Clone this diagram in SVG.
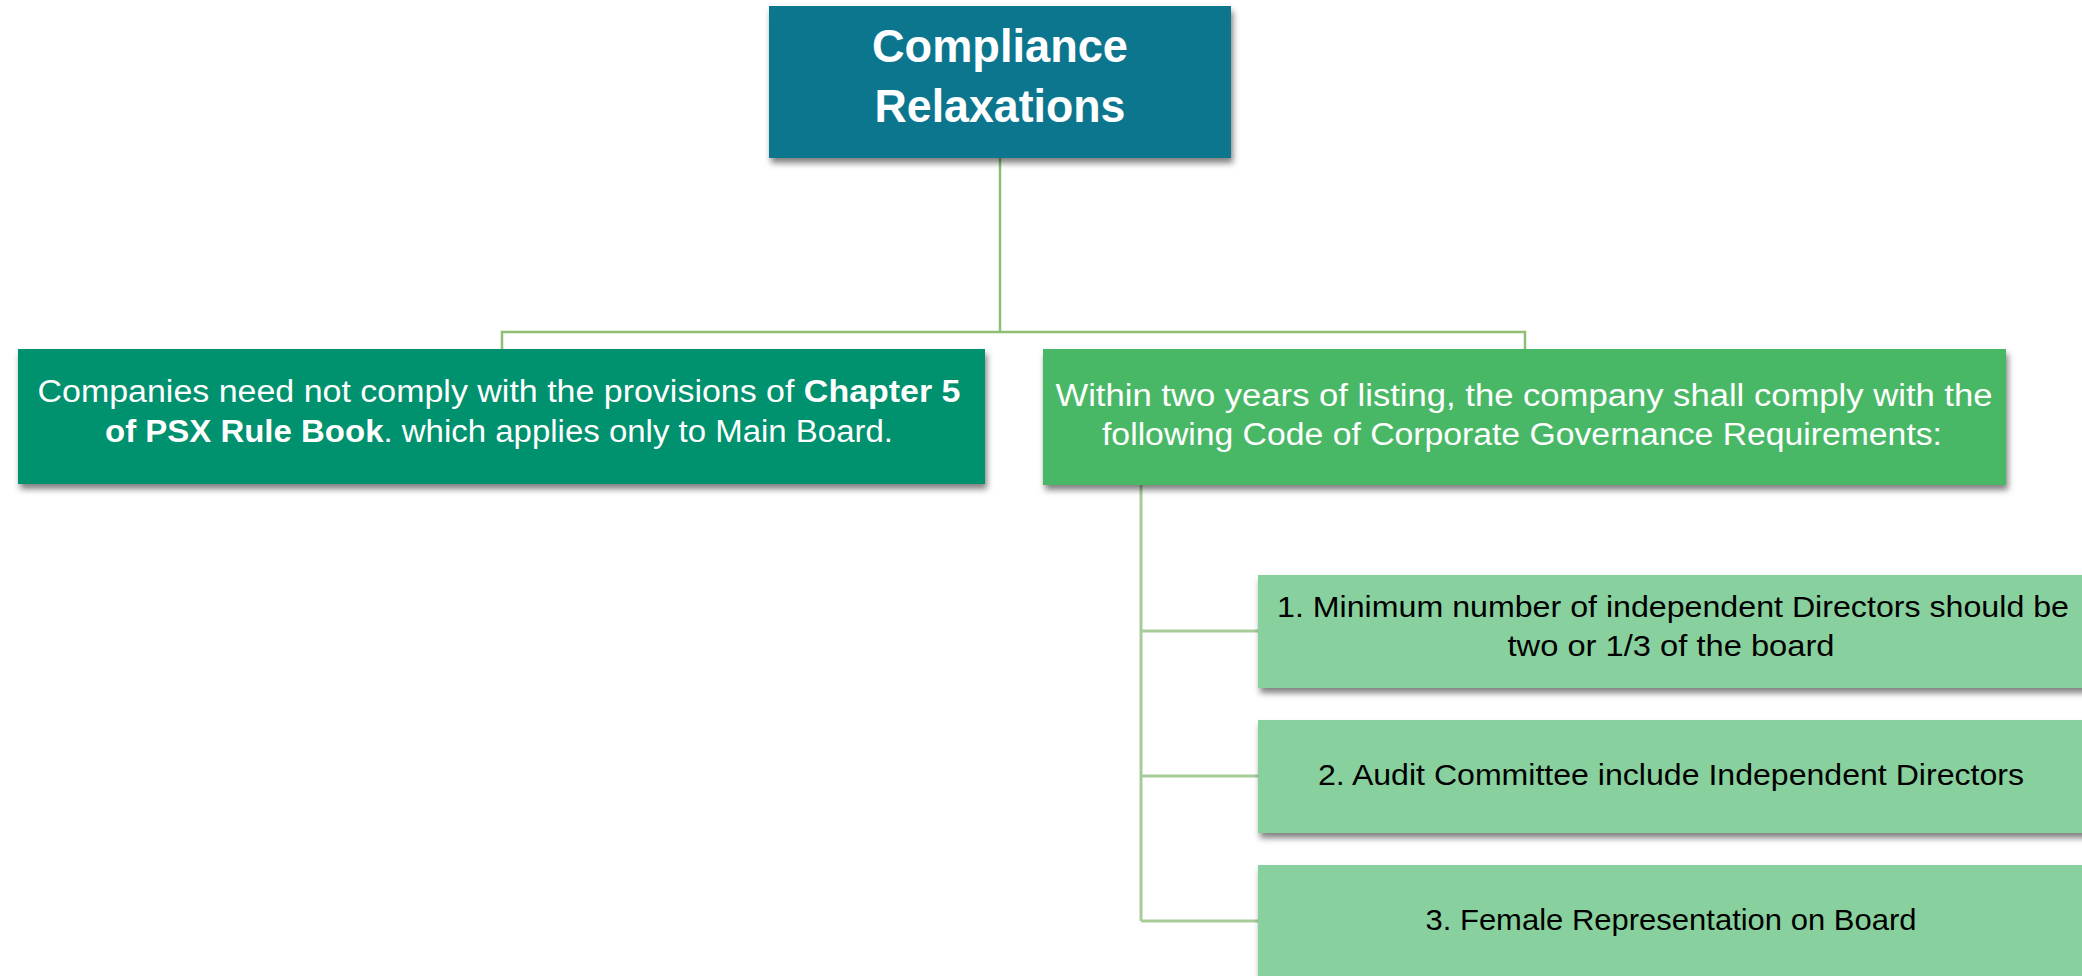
<svg xmlns="http://www.w3.org/2000/svg" width="2082" height="976" viewBox="0 0 2082 976">
<style>
  .lbl { font-family: "Liberation Sans", Arial, sans-serif; text-anchor: middle; }
  .w { fill: #ffffff; }
  .k { fill: #000000; }
  .conn { fill: none; stroke: #8FBE75; stroke-width: 2.5; }
  .conn2 { fill: none; stroke: #A8CC98; stroke-width: 3; }
</style>
<defs>
  <filter id="sh" x="-5%" y="-10%" width="110%" height="130%">
    <feDropShadow dx="2" dy="5" stdDeviation="3" flood-color="#000" flood-opacity="0.5"/>
  </filter>
</defs>
<rect width="2082" height="976" fill="#ffffff"/>
<g id="connectors">
  <path class="conn" d="M1000,158 V332 M502,349 V332 H1525 V349"/>
  <path class="conn2" d="M1141,485 V921 M1141,631 H1258 M1141,776 H1258 M1141,921 H1258"/>
</g>
<g id="root">
  <rect x="769" y="6" width="462" height="152" fill="#10768F" filter="url(#sh)"/>
  <text class="lbl w" x="1000" y="62" font-size="46" font-weight="bold" textLength="256" lengthAdjust="spacingAndGlyphs">Compliance</text>
  <text class="lbl w" x="1000" y="122" font-size="46" font-weight="bold" textLength="251" lengthAdjust="spacingAndGlyphs">Relaxations</text>
</g>
<g id="left">
  <rect x="18" y="349" width="967" height="135" fill="#00916E" filter="url(#sh)"/>
  <text class="lbl w" x="499" y="402" font-size="31" textLength="923" lengthAdjust="spacingAndGlyphs">Companies need not comply with the provisions of <tspan font-weight="bold">Chapter 5</tspan></text>
  <text class="lbl w" x="499" y="442" font-size="31" textLength="788" lengthAdjust="spacingAndGlyphs"><tspan font-weight="bold">of PSX Rule Book</tspan>. which applies only to Main Board.</text>
</g>
<g id="right">
  <rect x="1043" y="349" width="963" height="136" fill="#48B866" filter="url(#sh)"/>
  <text class="lbl w" x="1524" y="406" font-size="31" textLength="937" lengthAdjust="spacingAndGlyphs">Within two years of listing, the company shall comply with the</text>
  <text class="lbl w" x="1522" y="445" font-size="31" textLength="840" lengthAdjust="spacingAndGlyphs">following Code of Corporate Governance Requirements:</text>
</g>
<g id="item1">
  <rect x="1258" y="575" width="830" height="113" fill="#88D19E" filter="url(#sh)"/>
  <text class="lbl k" x="1673" y="617" font-size="30" textLength="792" lengthAdjust="spacingAndGlyphs">1. Minimum number of independent Directors should be</text>
  <text class="lbl k" x="1671" y="656" font-size="30" textLength="327" lengthAdjust="spacingAndGlyphs">two or 1/3 of the board</text>
</g>
<g id="item2">
  <rect x="1258" y="720" width="830" height="113" fill="#88D19E" filter="url(#sh)"/>
  <text class="lbl k" x="1671" y="785" font-size="30" textLength="706" lengthAdjust="spacingAndGlyphs">2. Audit Committee include Independent Directors</text>
</g>
<g id="item3">
  <rect x="1258" y="865" width="830" height="120" fill="#88D19E" filter="url(#sh)"/>
  <text class="lbl k" x="1671" y="930" font-size="30" textLength="491" lengthAdjust="spacingAndGlyphs">3. Female Representation on Board</text>
</g>
</svg>
